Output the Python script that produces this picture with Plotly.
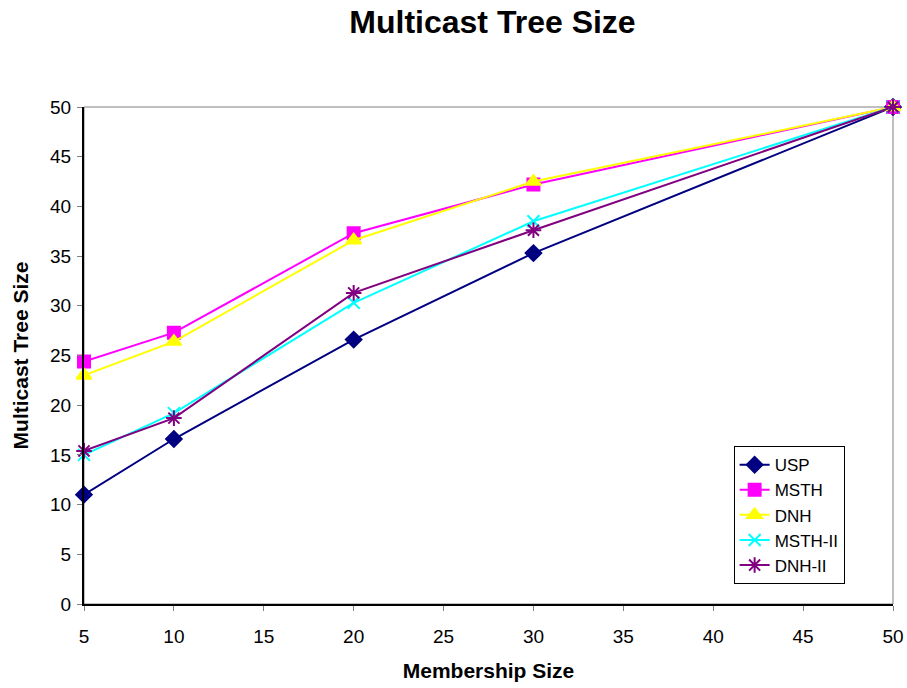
import plotly.graph_objects as go

membership = [5, 10, 20, 30, 50]
usp = [11.0, 16.6, 26.6, 35.3, 50.0]
msth = [24.4, 27.3, 37.3, 42.2, 50.0]
dnh = [23.0, 26.4, 36.6, 42.5, 50.0]
msth_ii = [15.0, 19.2, 30.3, 38.5, 50.0]
dnh_ii = [15.4, 18.7, 31.3, 37.6, 50.0]

series = [
    ("USP", usp, "#000080", "diamond", 12),
    ("MSTH", msth, "#FF00FF", "square", 12),
    ("DNH", dnh, "#FFFF00", "triangle-up", 13),
    ("MSTH-II", msth_ii, "#00FFFF", "x-thin-open", 12),
    ("DNH-II", dnh_ii, "#800080", "asterisk-open", 13),
]

fig = go.Figure()
for name, vals, color, symbol, size in series:
    fig.add_trace(go.Scatter(
        x=membership, y=vals, name=name, mode="lines+markers",
        line=dict(color=color, width=2),
        marker=dict(symbol=symbol, size=size, color=color,
                    line=dict(color=color, width=2)),
    ))

font = "Liberation Sans, Arial, sans-serif"
fig.update_layout(
    width=907, height=688,
    margin=dict(l=84, r=14, t=107, b=84),
    paper_bgcolor="white", plot_bgcolor="white",
    font=dict(family=font, size=19, color="black"),
    title=dict(text="<b>Multicast Tree Size</b>", x=0.543, xanchor="center",
               y=0.968, yanchor="middle", font=dict(size=32, family=font)),
    showlegend=True,
    legend=dict(x=0.803, y=0.04, xanchor="left", yanchor="bottom",
                bgcolor="white", bordercolor="black", borderwidth=1,
                font=dict(size=17, family=font), tracegroupgap=0),
    shapes=[dict(type="rect", xref="paper", yref="paper", x0=0, x1=1, y0=0, y1=1,
                 line=dict(color="#808080", width=1), layer="below")],
)
fig.update_xaxes(
    range=[5, 50], tickmode="array", tickvals=[5, 10, 15, 20, 25, 30, 35, 40, 45, 50],
    showgrid=False, zeroline=False, showline=True, linecolor="black", linewidth=2,
    ticks="outside", ticklen=5, tickcolor="#808080", tickwidth=1, automargin=False,
    title=dict(text="<b>Membership Size</b>", font=dict(size=21), standoff=18),
    tickfont=dict(size=19), ticklabelstandoff=9,
)
fig.update_yaxes(
    range=[0, 50], tickmode="array", tickvals=list(range(0, 51, 5)),
    showgrid=False, zeroline=False, showline=True, linecolor="black", linewidth=2,
    ticks="outside", ticklen=5, tickcolor="#808080", tickwidth=1, automargin=False,
    title=dict(text="<b>Multicast Tree Size</b>", font=dict(size=21), standoff=16),
    tickfont=dict(size=19), ticklabelstandoff=2,
)
fig.update_traces(cliponaxis=False)
fig.write_html("out.html")
